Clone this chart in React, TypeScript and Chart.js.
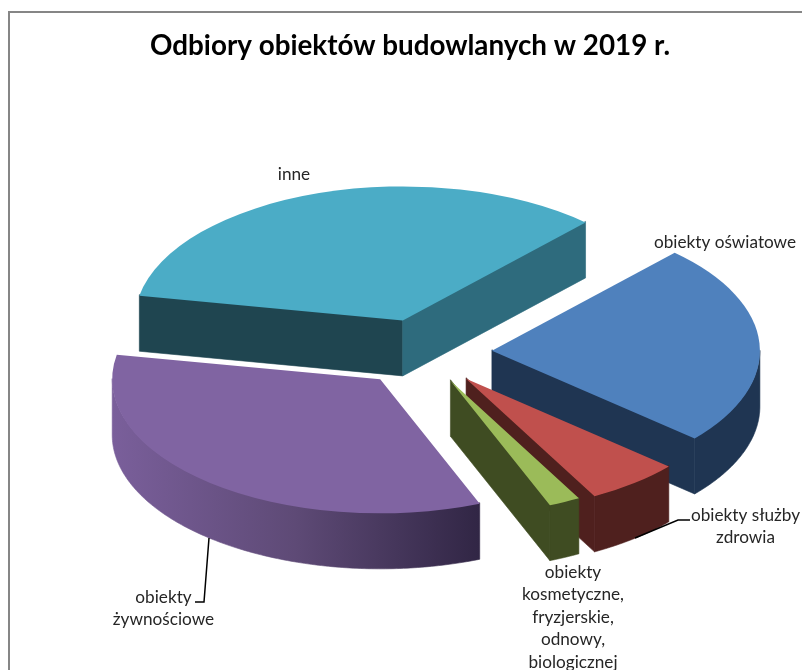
import React, { useEffect, useRef } from "react";
import { Chart, registerables } from "chart.js";

Chart.register(...registerables);

// Data, clockwise from the first slice
const categories: string[][] = [
  ["obiekty oświatowe"],
  ["obiekty służby", "zdrowia"],
  ["obiekty", "kosmetyczne,", "fryzjerskie,", "odnowy,", "biologicznej"],
  ["obiekty", "żywnościowe"],
  ["inne"],
];
const shares: number[] = [24.4, 5.7, 1.9, 34, 34];
const chartTitle = "Odbiory obiektów budowlanych w 2019 r.";

// Styles
const topColors = ["#4F81BD", "#C0504D", "#9BBB59", "#8064A2", "#4BACC6"];
const wallColors = ["#1F3552", "#4F201E", "#3F4C22", "#3A2D50", "#1F4550"];
const endFaceColors = ["#1F3552", "#4F201E", "#3F4C22", "#3A2D50", "#2E6B7D"];
const explode = [68, 67, 62, 69, 68];
const LABEL_FONT = "17.2px Lato";
const LABEL_LINE = 22.5;
const labelCenters: [number, number][] = [
  [725, 242],
  [745.5, 515],
  [573, 572],
  [163.5, 597],
  [294, 174],
];
const leaderLines: [number, number][][] = [
  [[209, 538], [204, 602], [195, 602]],
  [[635, 538], [678, 520], [690, 520]],
];

const SQUASH = 0.5;
const DEPTH = 55.5;
const PIE_SHIFT = 14;
const RADIUS = 268;

function sliceGeometry(arc: any, pull: number) {
  const mid = (arc.startAngle + arc.endAngle) / 2;
  const dx = Math.cos(mid) * pull + PIE_SHIFT;
  const dy = Math.sin(mid) * pull;
  const ax = arc.x + dx;
  const ay = arc.y + dy * SQUASH;
  const R = arc.outerRadius;
  const at = (t: number): [number, number] => [
    ax + R * Math.cos(t),
    ay + R * SQUASH * Math.sin(t),
  ];
  return { ax, ay, dx, dy, at, start: arc.startAngle, end: arc.endAngle };
}

function poly(ctx: CanvasRenderingContext2D, pts: [number, number][], fill: any) {
  ctx.beginPath();
  pts.forEach(([x, y], i) => (i ? ctx.lineTo(x, y) : ctx.moveTo(x, y)));
  ctx.closePath();
  ctx.fillStyle = fill;
  ctx.strokeStyle = fill;
  ctx.lineWidth = 0.6;
  ctx.fill();
  ctx.stroke();
}

// The rim, only where it faces the viewer (lower half of the ellipse)
function outerBand(g: any): [number, number][] {
  const upper: [number, number][] = [];
  const lower: [number, number][] = [];
  const steps = 160;
  for (let i = 0; i <= steps; i++) {
    const t = g.start + ((g.end - g.start) * i) / steps;
    if (Math.sin(t) < 0) continue;
    const [x, y] = g.at(t);
    upper.push([x, y - 1]);
    lower.unshift([x, y + DEPTH]);
  }
  return upper.concat(lower);
}

function radialFace(g: any, t: number): [number, number][] {
  const [x, y] = g.at(t);
  return [
    [g.ax, g.ay - 1],
    [x, y - 1],
    [x, y + DEPTH],
    [g.ax, g.ay + DEPTH],
  ];
}

const pie3d = {
  id: "pie3d",
  beforeDraw(chart: any) {
    const ctx = chart.ctx;
    ctx.save();
    ctx.fillStyle = "#ffffff";
    ctx.fillRect(0, 0, chart.width, chart.height);
    ctx.fillStyle = "#868686";
    ctx.fillRect(8, 11, 2, chart.height - 11);
    ctx.fillRect(8, 11, chart.width - 8, 2);
    ctx.restore();
  },
  beforeDatasetDraw(chart: any, args: any) {
    const ctx: CanvasRenderingContext2D = chart.ctx;
    const arcs = args.meta.data;
    const geo = arcs.map((a: any, i: number) => sliceGeometry(a, explode[i]));
    const order = arcs
      .map((_: any, i: number) => i)
      .sort((a: number, b: number) => geo[a].ay - geo[b].ay);
    // Side walls first, back to front; hidden faces are skipped
    order.forEach((i: number) => {
      const g = geo[i];
      let bandFill: any = wallColors[i];
      if (i === 3) {
        const grad = ctx.createLinearGradient(111, 0, 479, 0);
        grad.addColorStop(0, "#7A5F9B");
        grad.addColorStop(0.5, "#5E4A76");
        grad.addColorStop(1, "#312645");
        bandFill = grad;
      }
      if (Math.cos(g.start) < 0) poly(ctx, radialFace(g, g.start), wallColors[i]);
      if (Math.cos(g.end) > 0) poly(ctx, radialFace(g, g.end), endFaceColors[i]);
      const band = outerBand(g);
      if (band.length) poly(ctx, band, bandFill);
    });
    // Top surfaces: the library's arcs, flattened and pulled out
    order.forEach((i: number) => {
      const arc = arcs[i];
      const g = geo[i];
      ctx.save();
      ctx.translate(g.dx, g.dy * SQUASH);
      ctx.translate(0, arc.y);
      ctx.scale(1, SQUASH);
      ctx.translate(0, -arc.y);
      arc.draw(ctx);
      ctx.restore();
    });
    return false;
  },
  afterDraw(chart: any) {
    const ctx: CanvasRenderingContext2D = chart.ctx;
    ctx.save();
    ctx.strokeStyle = "#000000";
    ctx.lineWidth = 1.5;
    leaderLines.forEach((line) => {
      ctx.beginPath();
      line.forEach(([x, y], i) => (i ? ctx.lineTo(x, y) : ctx.moveTo(x, y)));
      ctx.stroke();
    });
    ctx.fillStyle = "#262626";
    ctx.font = LABEL_FONT;
    ctx.textAlign = "center";
    ctx.textBaseline = "middle";
    (chart.data.labels as string[][]).forEach((lines, i) => {
      const [x, y] = labelCenters[i];
      lines.forEach((text, j) => ctx.fillText(text, x, y + j * LABEL_LINE));
    });
    ctx.restore();
  },
};

export default function App() {
  const ref = useRef<HTMLCanvasElement>(null);
  useEffect(() => {
    const chart = new Chart(ref.current as HTMLCanvasElement, {
      type: "pie",
      data: {
        labels: categories as any,
        datasets: [
          {
            data: shares,
            backgroundColor: topColors,
            borderWidth: 0,
            clip: false as any,
          } as any,
        ],
      },
      options: {
        responsive: false,
        animation: false,
        rotation: 43,
        radius: RADIUS,
        layout: { padding: { left: 18, right: 0, top: 0, bottom: 27 } },
        plugins: {
          legend: { display: false },
          tooltip: { enabled: false },
          title: {
            display: true,
            text: chartTitle,
            color: "#000000",
            font: { family: "Lato", size: 27.8, weight: "bold" },
            padding: { top: 29, bottom: 0 },
          },
        },
      } as any,
      plugins: [pie3d],
    });
    return () => chart.destroy();
  }, []);
  return (
    <div style={{ position: "fixed", left: 0, top: 0, width: 802, height: 670, background: "#fff" }}>
      <canvas ref={ref} width={802} height={670} style={{ display: "block" }} />
    </div>
  );
}
